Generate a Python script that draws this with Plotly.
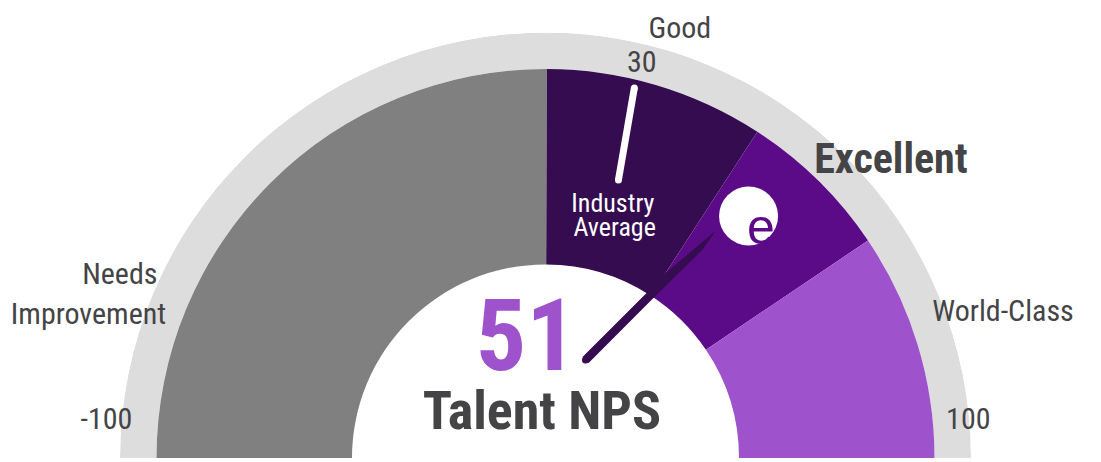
import plotly.graph_objects as go

W, H = 1101, 462
FONT = "Roboto, sans-serif"
TEXT_GREY = "#444446"

# gauge bands, degrees on the half circle
band_start = [180, 89.8, 57, 34]
band_end = [89.8, 57, 34, 0]
band_colors = ["#808080", "#350C50", "#5B0B87", "#9E52CC"]

hole_r = 193.5
band_r = 389
ring_r = 425.5

# industry average marker
avg_r = [287.4, 380.6]
avg_theta = [75.3, 76.5]

# needle outline
needle_r = [107.6, 104.3, 193, 260.6, 283.6, 220.5, 194.8]
needle_theta = [69.9, 65.6, 56.0, 53.0, 53.2, 57.0, 58.4]
needle_base_r = [105.8]
needle_base_theta = [67.8]

logo_r = [315.9]
logo_theta = [50.0]

# text, x px, y px, size, colour, bold
labels = [
    ("Good", 680, 28, 30, TEXT_GREY, False),
    ("30", 642, 61, 30, TEXT_GREY, False),
    ("Needs", 120, 273, 30, TEXT_GREY, False),
    ("Improvement", 88, 313, 30, TEXT_GREY, False),
    ("-100", 106, 418, 30, TEXT_GREY, False),
    ("100", 968, 418, 30, TEXT_GREY, False),
    ("World-Class", 1003, 310, 30, TEXT_GREY, False),
    ("Excellent", 891, 158, 42, TEXT_GREY, True),
    ("Talent NPS", 542, 410, 54, TEXT_GREY, True),
    ("51", 526, 335, 100, "#9E52CC", True),
    ("Industry", 613, 203, 26, "white", False),
    ("Average", 614, 227, 26, "white", False),
]

fig = go.Figure()

fig.add_trace(go.Barpolar(
    r=[ring_r - band_r], theta=[90], width=[180], base=[band_r],
    marker=dict(color="#DDDDDD", line=dict(width=0)),
))
fig.add_trace(go.Barpolar(
    r=[band_r - hole_r] * len(band_start),
    theta=[(a + b) / 2 for a, b in zip(band_start, band_end)],
    width=[a - b for a, b in zip(band_start, band_end)],
    base=[hole_r] * len(band_start),
    marker=dict(color=band_colors, line=dict(width=0)),
))
fig.add_trace(go.Scatterpolar(
    r=avg_r, theta=avg_theta, mode="lines+markers",
    line=dict(color="white", width=7), marker=dict(color="white", size=7),
))
fig.add_trace(go.Scatterpolar(
    r=needle_r + needle_r[:1], theta=needle_theta + needle_theta[:1],
    mode="lines", fill="toself", fillcolor="#350C50", line=dict(width=0),
))
fig.add_trace(go.Scatterpolar(
    r=needle_base_r, theta=needle_base_theta, mode="markers",
    marker=dict(color="#350C50", size=7),
))
fig.add_trace(go.Scatterpolar(
    r=logo_r, theta=logo_theta, mode="markers",
    marker=dict(color="white", size=59),
))

annotations = [
    dict(text=f"<b>{t}</b>" if bold else t, x=x / W, y=1 - y / H, xref="paper", yref="paper",
         xanchor="center", yanchor="middle", showarrow=False,
         font=dict(family=FONT, size=size, color=color))
    for t, x, y, size, color, bold in labels
]
# logo letter, stays at normal width
annotations.append(dict(text="e", x=761 / W, y=1 - 227 / H, xref="paper", yref="paper",
                        xanchor="center", yanchor="middle", showarrow=False,
                        font=dict(family="Liberation Sans", size=50, color="#5B0B87")))

fig.update_layout(
    width=W, height=H,
    margin=dict(l=0, r=0, t=0, b=0),
    paper_bgcolor="white",
    showlegend=False,
    annotations=annotations,
    polar=dict(
        domain=dict(x=[120 / W, 971 / W], y=[4 / H, 429.5 / H]),
        sector=[0, 180],
        bgcolor="rgba(0,0,0,0)",
        radialaxis=dict(range=[0, ring_r], visible=False),
        angularaxis=dict(visible=False, thetaunit="degrees", direction="counterclockwise", rotation=0),
    ),
)

post = """
document.body.style.margin='0';
var s = document.createElement('style');
s.textContent = '.annotation-text { font-stretch: 75% !important; }';
document.head.appendChild(s);
"""
fig.write_html("out.html", post_script=post, config=dict(displayModeBar=False))
